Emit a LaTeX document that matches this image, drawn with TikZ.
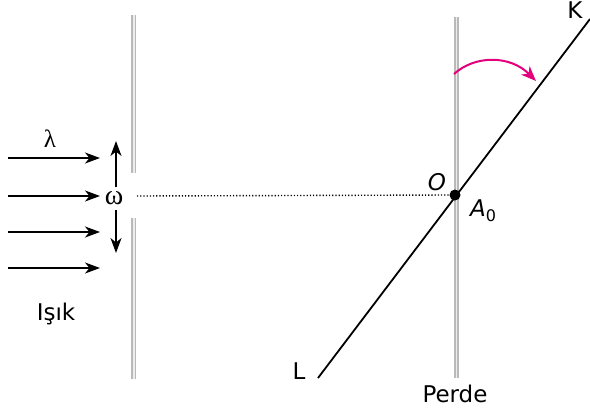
\documentclass[tikz,border=0pt]{standalone}
\usepackage{fontspec}
\setmainfont{DejaVu Sans}
\newfontfamily\grkfont{Liberation Serif}
\usetikzlibrary{arrows.meta}
\definecolor{mag}{RGB}{228,0,124}
\begin{document}
\begin{tikzpicture}[x=1pt,y=-1pt,
  wall/.style={line width=5pt, draw=gray!55},
  wallin/.style={line width=1.6pt, draw=gray!15},
  ray/.style={line width=1.8pt, -{Stealth[length=15pt,width=11pt,inset=4.5pt]}},
  lbl/.style={font=\fontsize{23}{27}\selectfont, inner sep=0pt},
  ilbl/.style={font=\fontsize{23}{27}\selectfont\itshape, inner sep=0pt},
  greek/.style={font=\fontsize{28}{30}\selectfont\grkfont, inner sep=0pt},
  dot/.style={circle, fill=black, inner sep=0pt, minimum size=11pt}]
\useasboundingbox (0,0) rectangle (590,410);
% walls
\coordinate (w1t) at (133.5,15);
\coordinate (w1a) at (133.5,173);
\coordinate (w1b) at (133.5,218);
\coordinate (w1d) at (133.5,379);
\coordinate (w2t) at (456,17);
\coordinate (w2b) at (456,378);
\foreach \a/\b in {w1t/w1a, w1b/w1d, w2t/w2b}{
  \draw[wall] (\a) -- (\b);
  \draw[wallin] ([xshift=0.5pt]\a) -- ([xshift=0.5pt]\b);
}
% slit
\node[greek] (omega) at (114,198) {ω};
\node[greek, font=\fontsize{25}{28}\selectfont\grkfont] (lambda) at (50,139) {λ};
% incoming rays
\foreach \i/\y in {1/158,2/196,3/232,4/268}{
  \coordinate (rs\i) at (8,\y);
  \coordinate (re\i) at (100,\y);
  \draw[ray] (rs\i) -- (re\i);
}
% vertical arrows
\coordinate (upS) at (116,187);
\coordinate (up) at (116,141);
\coordinate (dnS) at (116,210);
\coordinate (dn) at (116,253);
\draw[ray] (upS) -- (up);
\draw[ray] (dnS) -- (dn);
% dotted axis
\node[dot] (A) at (455,195) {};
\coordinate (slit) at (137,196);
\draw[line width=1.4pt, dash pattern=on 1.2pt off 2pt] (slit) -- (A.west);
% rotating line
\coordinate (Lend) at (318,378);
\coordinate (Kend) at (590,19);
\draw[line width=1.8pt] (Lend) -- (Kend);
\node[lbl] (K) at (575,10) {K};
\node[lbl] (L) at (299,371) {L};
% labels
\node[ilbl] (O) at (437,182) {O};
\node[ilbl, anchor=west] (A0) at (470,211) {A\raisebox{-5pt}{\fontsize{16}{16}\selectfont\upshape 0}};
\node[lbl] (perde) at (455,394) {Perde};
\node[lbl] (isik) at (56,314) {Işık};
% rotation arrow
\coordinate (arcS) at (454,74);
\coordinate (arcE) at (536,81);
\draw[mag, line width=2pt, -{Stealth[length=15pt,width=12pt,inset=4.5pt]}] (arcS) .. controls (475,55) and (510,55) .. (arcE);
\end{tikzpicture}
\end{document}
